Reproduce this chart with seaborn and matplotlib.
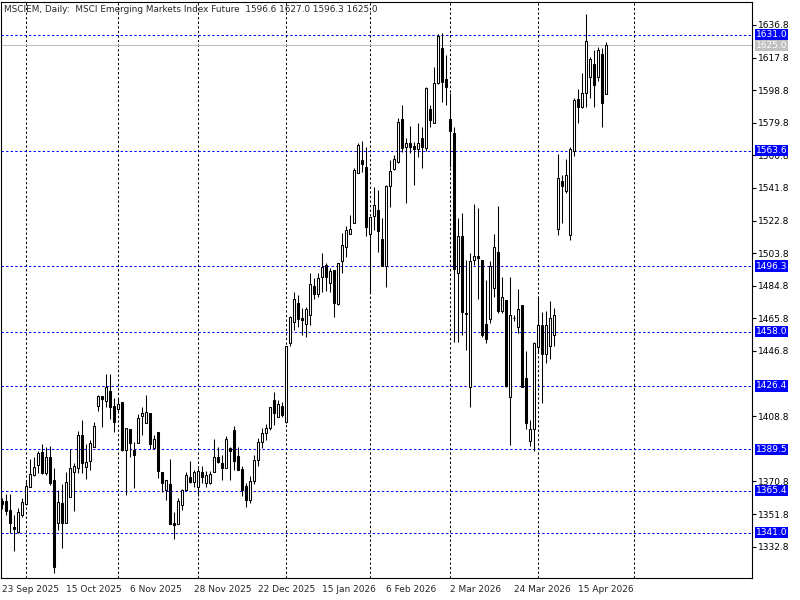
import pandas as pd
import matplotlib
matplotlib.use("Agg")
import matplotlib.pyplot as plt
import seaborn as sns

# daily OHLC, 23 Sep 2025 .. 24 Apr 2026
opens = [1359.5, 1359.1, 1354.2, 1344.5, 1341.6, 1351.3, 1357.5, 1367.4, 1374.4, 1380.4,
         1387.8, 1375.6, 1384.9, 1371.7, 1346.4, 1358.1, 1346.4, 1361.6, 1376.5, 1378.9,
         1397.9, 1379.4, 1382.9, 1391.1, 1415.0, 1420.6, 1417.9, 1423.5, 1414.8, 1412.9,
         1417.1, 1389.2, 1401.2, 1389.2, 1393.4, 1409.0, 1405.1, 1410.9, 1390.1, 1399.3,
         1376.0, 1365.5, 1369.3, 1346.8, 1346.0, 1357.1, 1365.9, 1373.6, 1370.7, 1367.4,
         1376.0, 1370.1, 1369.7, 1376.0, 1384.9, 1381.4, 1378.5, 1390.5, 1400.8, 1385.7,
         1378.0, 1368.0, 1360.0, 1371.0, 1383.0, 1394.0, 1399.0, 1401.7, 1418.2, 1408.5,
         1414.8, 1405.6, 1451.3, 1463.9, 1474.9, 1465.8, 1462.5, 1467.8, 1484.7, 1480.0,
         1489.8, 1496.9, 1486.3, 1494.0, 1474.2, 1499.5, 1507.2, 1515.0, 1521.2, 1550.4,
         1558.1, 1554.2, 1515.0, 1525.5, 1529.0, 1511.9, 1496.4, 1543.0, 1552.7, 1556.8,
         1581.8, 1565.9, 1567.8, 1566.3, 1564.3, 1570.7, 1564.9, 1587.6, 1579.9, 1602.8,
         1623.2, 1605.1, 1581.8, 1574.0, 1492.5, 1513.8, 1469.2, 1426.0, 1499.8, 1502.1,
         1499.8, 1462.5, 1465.2, 1483.3, 1504.7, 1470.3, 1476.5, 1420.2, 1465.8, 1461.0,
         1473.6, 1430.9, 1394.5, 1401.1, 1448.9, 1462.0, 1445.0, 1450.0, 1456.0, 1517.8,
         1545.9, 1540.3, 1514.5, 1563.6, 1593.5, 1589.2, 1597.4, 1606.3, 1614.1, 1606.7,
         1619.9, 1596.6]
highs = [1361.0, 1363.3, 1363.5, 1351.3, 1355.2, 1361.0, 1371.7, 1383.7, 1385.3, 1388.8,
         1392.7, 1391.1, 1391.5, 1378.5, 1365.5, 1369.3, 1376.0, 1389.5, 1381.4, 1400.2,
         1406.6, 1392.6, 1395.0, 1405.7, 1421.2, 1420.6, 1433.4, 1433.4, 1419.3, 1419.3,
         1417.1, 1401.8, 1401.2, 1394.0, 1410.1, 1414.4, 1421.2, 1410.9, 1397.9, 1399.3,
         1376.0, 1371.7, 1383.7, 1353.2, 1361.0, 1366.2, 1376.5, 1382.4, 1377.5, 1378.5,
         1379.5, 1377.1, 1377.1, 1395.4, 1391.1, 1386.3, 1397.3, 1391.1, 1403.1, 1390.7,
         1380.0, 1370.0, 1374.0, 1386.0, 1396.0, 1402.0, 1404.0, 1414.4, 1423.1, 1418.3,
         1417.3, 1449.7, 1467.2, 1481.4, 1479.4, 1471.7, 1472.6, 1492.1, 1489.2, 1492.1,
         1503.7, 1497.9, 1495.0, 1494.0, 1498.3, 1515.8, 1519.7, 1526.1, 1553.3, 1568.2,
         1569.4, 1565.9, 1524.7, 1542.2, 1540.7, 1524.1, 1543.6, 1558.1, 1561.0, 1582.4,
         1590.2, 1570.7, 1577.9, 1568.8, 1579.5, 1577.5, 1600.8, 1590.2, 1612.5, 1631.5,
         1631.9, 1619.3, 1597.3, 1577.5, 1524.1, 1527.0, 1499.8, 1503.7, 1532.4, 1529.9,
         1499.8, 1488.1, 1499.4, 1515.0, 1531.3, 1490.1, 1476.5, 1489.7, 1467.8, 1482.7,
         1473.6, 1447.0, 1406.6, 1452.2, 1478.8, 1469.7, 1470.0, 1476.0, 1472.0, 1561.7,
         1549.4, 1558.5, 1565.9, 1594.1, 1599.3, 1608.7, 1643.2, 1618.0, 1622.3, 1623.8,
         1623.2, 1627.0]
lows = [1355.0, 1351.3, 1340.6, 1330.5, 1341.0, 1350.3, 1357.1, 1367.4, 1374.0, 1375.6,
        1375.2, 1374.6, 1368.8, 1317.3, 1342.2, 1331.9, 1346.4, 1361.6, 1353.8, 1375.6,
        1375.9, 1372.1, 1377.5, 1390.7, 1412.1, 1402.7, 1414.4, 1407.4, 1399.3, 1410.5,
        1388.8, 1362.9, 1385.3, 1366.8, 1393.4, 1397.9, 1405.1, 1389.5, 1390.1, 1372.6,
        1364.9, 1360.0, 1346.0, 1337.1, 1346.0, 1354.2, 1365.5, 1369.7, 1367.4, 1362.0,
        1369.7, 1367.4, 1369.3, 1376.0, 1381.4, 1371.7, 1378.5, 1371.7, 1377.5, 1377.5,
        1362.0, 1356.0, 1358.0, 1369.0, 1380.0, 1390.0, 1395.0, 1400.5, 1403.7, 1408.1,
        1408.5, 1405.0, 1449.7, 1459.0, 1461.0, 1456.1, 1454.8, 1462.0, 1476.9, 1478.5,
        1481.4, 1482.0, 1481.4, 1466.9, 1473.6, 1492.1, 1501.4, 1515.0, 1521.2, 1550.4,
        1551.3, 1513.8, 1480.4, 1517.3, 1504.7, 1496.4, 1483.9, 1530.6, 1552.3, 1556.6,
        1563.0, 1533.2, 1562.4, 1543.5, 1559.7, 1553.3, 1563.6, 1577.5, 1579.9, 1602.4,
        1592.1, 1590.2, 1554.2, 1452.2, 1452.2, 1456.1, 1447.4, 1414.0, 1496.9, 1476.9,
        1455.1, 1451.6, 1463.3, 1478.1, 1469.1, 1469.1, 1426.0, 1392.0, 1464.5, 1457.5,
        1426.0, 1401.1, 1391.4, 1388.7, 1445.8, 1416.7, 1440.0, 1442.0, 1450.0, 1514.5,
        1521.2, 1538.7, 1511.5, 1560.5, 1579.9, 1588.3, 1589.2, 1594.1, 1588.9, 1604.4,
        1577.2, 1596.3]
closes = [1357.5, 1353.8, 1346.4, 1342.9, 1353.2, 1358.7, 1368.2, 1375.2, 1379.1, 1387.6,
          1375.9, 1384.9, 1370.1, 1320.8, 1358.7, 1346.4, 1370.5, 1378.5, 1379.9, 1397.9,
          1381.4, 1382.0, 1393.0, 1403.1, 1420.6, 1418.7, 1425.7, 1414.0, 1405.7, 1416.0,
          1389.2, 1401.8, 1393.0, 1385.9, 1407.6, 1410.5, 1411.5, 1392.4, 1395.4, 1377.1,
          1369.7, 1371.7, 1346.0, 1345.5, 1359.1, 1365.5, 1374.6, 1370.7, 1376.5, 1377.1,
          1373.6, 1374.6, 1375.2, 1384.9, 1382.2, 1378.5, 1395.4, 1388.8, 1382.4, 1377.5,
          1366.0, 1360.0, 1371.0, 1383.0, 1394.0, 1399.0, 1402.0, 1414.4, 1410.9, 1415.8,
          1409.5, 1449.7, 1466.4, 1476.9, 1465.3, 1464.9, 1471.1, 1485.9, 1480.0, 1489.2,
          1496.0, 1490.1, 1493.6, 1475.0, 1498.3, 1508.4, 1517.3, 1517.7, 1552.3, 1566.9,
          1555.6, 1519.3, 1524.7, 1531.9, 1517.0, 1496.4, 1543.0, 1551.9, 1558.5, 1580.0,
          1564.9, 1568.2, 1565.9, 1564.3, 1568.2, 1565.9, 1599.9, 1581.4, 1603.2, 1630.4,
          1603.8, 1600.9, 1575.2, 1494.4, 1513.8, 1469.7, 1468.5, 1499.4, 1502.1, 1500.8,
          1456.1, 1453.6, 1496.3, 1507.2, 1470.3, 1478.1, 1426.4, 1467.8, 1466.0, 1471.1,
          1426.0, 1404.6, 1401.1, 1451.6, 1462.0, 1445.0, 1462.0, 1466.0, 1468.0, 1547.5,
          1543.2, 1549.4, 1564.4, 1593.1, 1589.2, 1597.4, 1627.7, 1616.8, 1601.9, 1622.3,
          1591.2, 1625.0]

# horizontal line objects and current bid
levels = [1631.0, 1563.6, 1496.3, 1458.0, 1426.4, 1389.5, 1365.4, 1341.0]
bid = 1625.0
# 1389.8 and 1427.8 are hidden behind the line labels on the terminal scale
price_ticks = [1332.8, 1351.8, 1370.8, 1408.8, 1446.8, 1465.8, 1484.8,
               1503.8, 1522.8, 1541.8, 1560.8, 1579.8, 1598.8, 1617.8, 1636.8]
holidays = ["2025-12-25", "2026-01-01"]
title = "MSCIEM, Daily:  MSCI Emerging Markets Index Future  1596.6 1627.0 1596.3 1625.0"

dates = pd.bdate_range("2025-09-23", "2026-04-24")
dates = dates[~dates.isin(pd.to_datetime(holidays))]
df = pd.DataFrame({"date": dates, "open": opens, "high": highs,
                   "low": lows, "close": closes})
df["x"] = range(len(df))
df["up"] = df["close"] >= df["open"]

# first bar of every month -> vertical grid, plus one in the empty area on the right
month_first = df.groupby(df["date"].dt.to_period("M"))["x"].min().tolist()[1:]
month_first.append(len(df) + 6)

sns.set_style("white")
plt.rcParams["font.family"] = ["DejaVu Sans"]

fig = plt.figure(figsize=(8, 6), dpi=100)
ax = fig.add_axes([1 / 800, 22 / 600, 751 / 800, 576 / 600])

dash = (0, (2.2, 2.2))
for m in month_first:
    ax.axvline(m, color="black", lw=0.75, ls=dash, zorder=1)
for lv in levels:
    ax.axhline(lv, color="#0000ff", lw=0.75, ls=dash, zorder=1)
ax.axhline(bid, color="#c0c0c0", lw=0.75, zorder=1)

ax.vlines(df["x"], df["low"], df["high"], color="black", lw=0.75, zorder=2)
body = (df["close"] - df["open"]).abs()
ax.bar(df["x"], body, bottom=df[["open", "close"]].min(axis=1), width=0.5,
       color=["white" if u else "black" for u in df["up"]],
       edgecolor="black", linewidth=0.75, zorder=3)

ax.set_xlim(-0.25, 187.5)
ax.set_ylim(1314.5, 1650.2)

ax.yaxis.tick_right()
ax.set_yticks(price_ticks)
ax.set_yticklabels([f"{t:.1f}" for t in price_ticks], fontsize=6.5)
ax.tick_params(axis="y", direction="out", length=3, width=0.8, pad=1, colors="black")

xt = df["x"].tolist()[::16]
ax.set_xticks(xt)
ax.set_xticklabels([d.strftime("%-d %b %Y") for d in df["date"].iloc[::16]],
                   fontsize=6.5, ha="left")
ax.tick_params(axis="x", direction="out", length=4, width=0.8, pad=1)

for s in ax.spines.values():
    s.set_color("black")
    s.set_linewidth(0.8)

for lv in levels:
    ax.annotate(f"{lv:.1f}", xy=(1.005, lv), xycoords=("axes fraction", "data"),
                va="center", ha="left", fontsize=6.5, color="white", zorder=5,
                annotation_clip=False,
                bbox=dict(boxstyle="square,pad=0.12", fc="#0000ff", ec="none"))
ax.annotate(f"{bid:.1f}", xy=(1.005, bid), xycoords=("axes fraction", "data"),
            va="center", ha="left", fontsize=6.5, color="white", zorder=5,
            annotation_clip=False,
            bbox=dict(boxstyle="square,pad=0.12", fc="#c0c0c0", ec="none"))

fig.text(4 / 800, 1 - 10 / 600, title, fontsize=6.4, va="center", ha="left")

fig.savefig("out.png", dpi=100)
